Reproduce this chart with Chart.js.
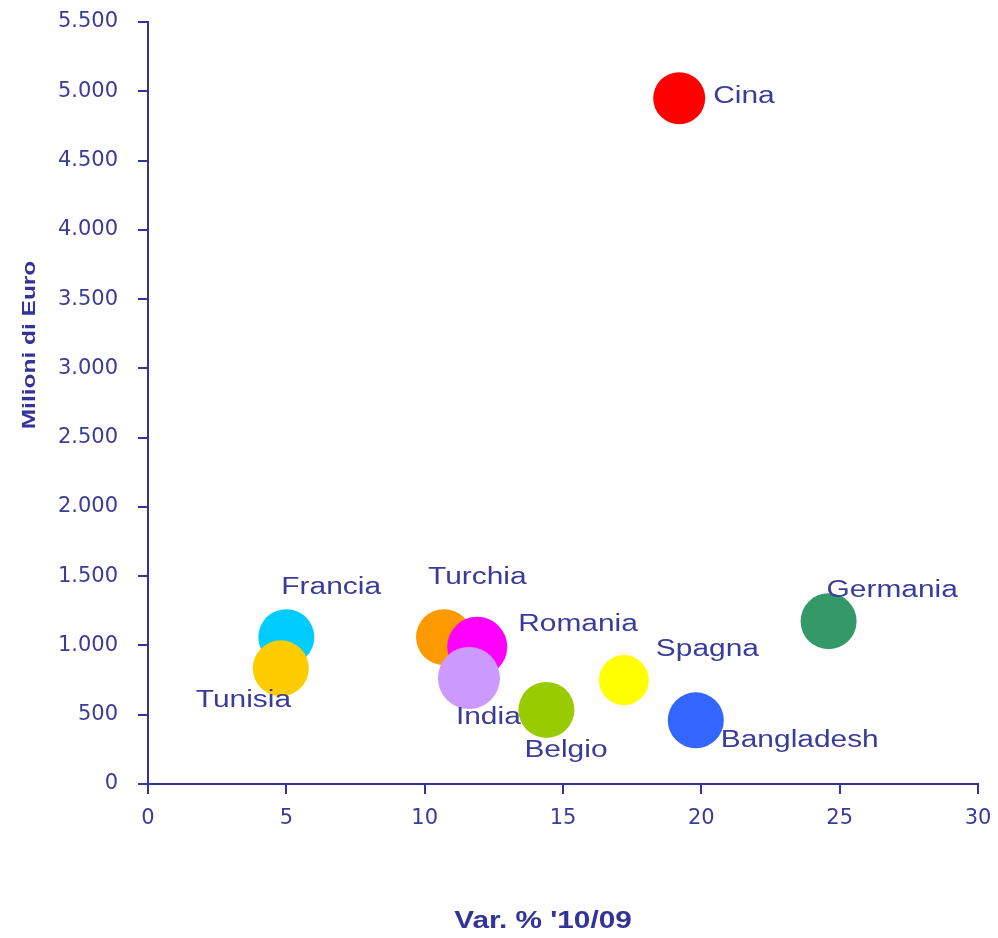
<!DOCTYPE html>
<html lang="it">
<head>
<meta charset="utf-8">
<title>Var. % '10/09</title>
<script src="https://cdn.jsdelivr.net/npm/chart.js@4/dist/chart.umd.min.js"></script>
<style>
  html, body { margin: 0; padding: 0; background: #ffffff; }
  canvas { display: block; }
</style>
</head>
<body>
<canvas id="chart" width="998" height="938"></canvas>
<script>
// Import per paese: variazione % 2010/2009 (x) e milioni di euro (y)
const paesi = ["Cina", "Germania", "Francia", "Tunisia", "Turchia", "Romania", "India", "Belgio", "Spagna", "Bangladesh"];
const variazione = [19.2, 24.6, 5.0, 4.8, 10.7, 11.9, 11.6, 14.4, 17.2, 19.8];
const milioni = [4950, 1175, 1060, 835, 1060, 990, 765, 535, 750, 460];
const raggi = [26, 28, 28, 28, 28, 30, 31, 28, 25, 28];
const colori = ["#ff0000", "#339966", "#00ccff", "#ffcc00", "#ff9900", "#ff00ff", "#cc99ff", "#99cc00", "#ffff00", "#3366ff"];

const xTicks = [0, 5, 10, 15, 20, 25, 30];
const yTicks = [0, 500, 1000, 1500, 2000, 2500, 3000, 3500, 4000, 4500, 5000, 5500];

// where each name sits relative to its bubble (text start, middle line)
const labelOffsets = [[34, -2], [-2, -31], [-5, -49], [-85, 32], [-16, -59], [41, -22], [-13, 40], [-22, 41], [32, -30], [25, 20]];

const INK = "#333399";
const TEXT = "#3b3b98";

const fmtMigliaia = (v) => String(v).replace(/\B(?=(\d{3})+(?!\d))/g, ".");

// draws text squeezed/stretched horizontally
const stretchText = (ctx, text, x, y, sx) => {
  ctx.save();
  ctx.translate(x, y);
  ctx.scale(sx, 1);
  ctx.fillText(text, 0, 0);
  ctx.restore();
};

const nomiPaesi = {
  id: "nomiPaesi",
  afterDatasetsDraw(chart) {
    const ctx = chart.ctx;
    const meta = chart.getDatasetMeta(0);
    ctx.save();
    ctx.fillStyle = TEXT;
    ctx.font = "23px 'Liberation Sans', Arial, sans-serif";
    ctx.textAlign = "left";
    ctx.textBaseline = "middle";
    meta.data.forEach((el, i) => {
      const [dx, dy] = labelOffsets[i];
      stretchText(ctx, paesi[i], el.x + dx, el.y + dy, 1.3);
    });
    ctx.restore();
  },
};

const titoliAssi = {
  id: "titoliAssi",
  afterDraw(chart) {
    const ctx = chart.ctx;
    const area = chart.chartArea;
    ctx.save();
    ctx.fillStyle = INK;
    ctx.textAlign = "center";
    ctx.textBaseline = "middle";

    ctx.font = "bold 24px 'Liberation Sans', Arial, sans-serif";
    stretchText(ctx, "Var. % '10/09", (area.left + area.right) / 2 - 20, 921, 1.24);

    ctx.translate(30, (area.top + area.bottom) / 2 - 58);
    ctx.rotate(-Math.PI / 2);
    ctx.font = "bold 18px 'Liberation Sans', Arial, sans-serif";
    stretchText(ctx, "Milioni di Euro", 0, 0, 1.36);
    ctx.restore();
  },
};

const punti = paesi.map((_, i) => ({ x: variazione[i], y: milioni[i], r: raggi[i] }));

const axisStyle = {
  grid: { drawOnChartArea: false, drawTicks: true, tickLength: 10, color: INK, lineWidth: 2 },
  border: { display: true, color: INK, width: 2 },
};

new Chart(document.getElementById("chart"), {
  type: "bubble",
  data: {
    datasets: [{
      data: punti,
      backgroundColor: colori,
      borderWidth: 0,
      hoverRadius: 0,
      clip: false,
    }],
  },
  options: {
    responsive: false,
    animation: false,
    layout: { autoPadding: false, padding: { top: 22, right: 20, left: 0, bottom: 0 } },
    plugins: {
      legend: { display: false },
      tooltip: { enabled: false },
    },
    scales: {
      x: {
        type: "linear",
        min: xTicks[0],
        max: xTicks[xTicks.length - 1],
        afterBuildTicks: (s) => { s.ticks = xTicks.map((v) => ({ value: v })); },
        afterFit: (s) => {
          s.height = 154;
          s.paddingLeft = 0;
          s.paddingRight = 0;
        },
        ticks: {
          color: TEXT,
          padding: 12,
          maxRotation: 0,
          font: { family: "'DejaVu Sans', sans-serif", size: 21 },
        },
        ...axisStyle,
      },
      y: {
        type: "linear",
        min: yTicks[0],
        max: yTicks[yTicks.length - 1],
        afterBuildTicks: (s) => { s.ticks = yTicks.map((v) => ({ value: v })); },
        afterFit: (s) => {
          s.width = 148;
          s.paddingTop = 0;
          s.paddingBottom = 0;
        },
        ticks: {
          color: TEXT,
          padding: 20,
          callback: (v) => fmtMigliaia(v),
          font: { family: "'DejaVu Sans', sans-serif", size: 21 },
        },
        ...axisStyle,
      },
    },
  },
  plugins: [nomiPaesi, titoliAssi],
});
</script>
</body>
</html>
